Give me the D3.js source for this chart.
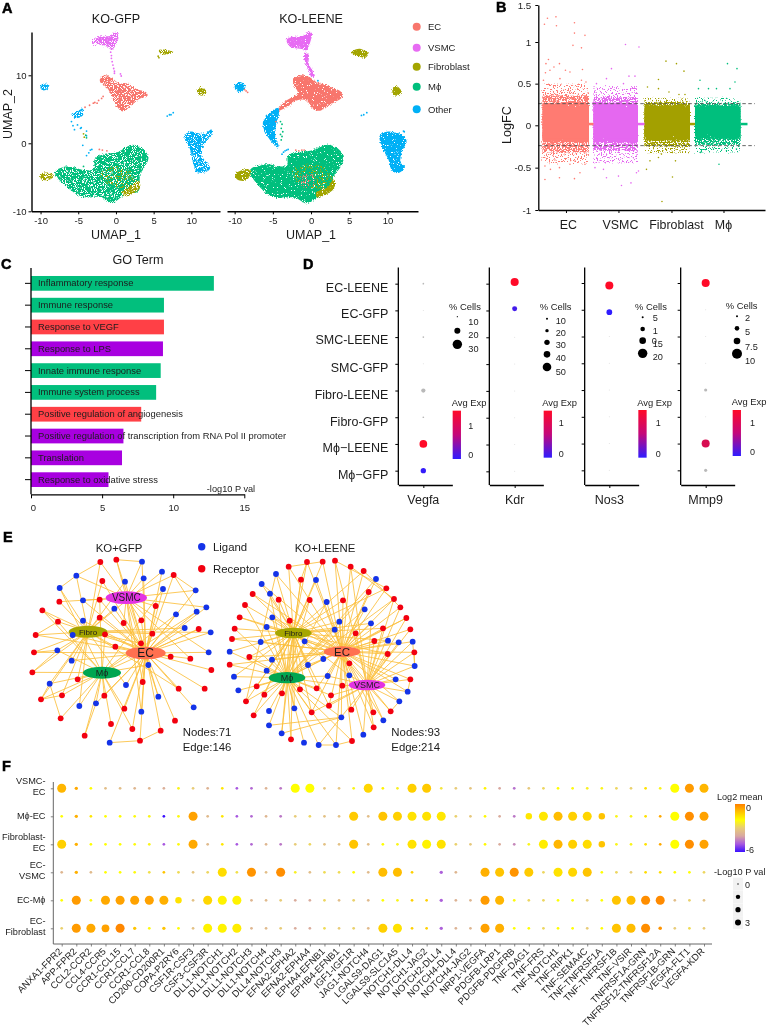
<!DOCTYPE html>
<html><head><meta charset="utf-8">
<script src="https://cdn.jsdelivr.net/npm/d3@7/dist/d3.min.js"></script>
<style>html,body{margin:0;padding:0;background:#fff}svg{display:block;filter:blur(.3px)}text{font-family:"Liberation Sans",Arial,sans-serif;fill:#1c1c1c}</style>
</head><body><script>
// ---------- Panel A data (UMAP units, outlines)
const cellTypes=['EC','VSMC','Fibroblast','Mϕ','Other'];
const typeColors=['#F8766D','#E76BF3','#A3A500','#00BF7D','#00B0F6'];
const umapTicksX=[-10,-5,0,5,10], umapTicksY=[-10,0,10];
const gfpBlobs=[
 ['Mϕ',[[-8.1,-4.3],[-7,-3.5],[-5.7,-3.5],[-4.8,-3.8],[-3,-3.8],[-2.8,-2.3],[-1.7,-1.6],[.1,-1.3],[2.3,-.2],[4.1,-1.3],[4.3,-2.3],[3.2,-4.8],[3,-7],[1,-7.7],[-.6,-8.8],[-2,-7.9],[-4.3,-7.9],[-6,-6.9]]],
 ['Fibroblast',[[.8,-7.2],[1.9,-6.3],[3,-5.5],[3.2,-6.5],[2.1,-7.5],[1.2,-7.8]]],
 ['Fibroblast',[[-10,-4.5],[-9,-4.3],[-8.2,-4.8],[-9,-5.4],[-9.9,-5.3]]],
 ['Fibroblast',[[5.7,13.7],[6.3,13.8],[7.6,13.4],[6.9,13.1],[5.9,13.2]]],
 ['Fibroblast',[[10.9,8],[11.4,8.3],[12,7.5],[11.4,7],[10.9,7.3]]],
 ['EC',[[-2.1,9.5],[-1.5,10],[-.6,9.6],[.5,8.8],[1.6,8.8],[2.7,8],[4,7.5],[4.2,6.9],[3.2,6.6],[2.3,5.8],[1.2,4.8],[.8,4.7],[.1,5.5],[-.6,7],[-1.2,8.2],[-2.1,9]]],
 ['VSMC',[[-3.2,14.9],[-2.1,15.7],[-.8,15.8],[-.1,16.4],[.3,16.2],[.2,14.9],[-.6,13.7],[-.8,13.9],[-2.1,14.5],[-3,14.5]]],
 ['Other',[[-10,8.5],[-9.4,8.8],[-8.8,8.4],[-9.4,7.8],[-9.9,7.9]]],
 ['Other',[[-5.9,4.3],[-5,4.8],[-4.3,5.1],[-4.4,4.1],[-5.4,3.7]]],
 ['Other',[[9.1,1.1],[9.8,1.7],[11.6,1.4],[12.7,2],[12.9,1.5],[11.9,.1],[11.4,-1.8],[12.5,-3.6],[12,-4.2],[10.7,-4.2],[10.2,-2.8],[9.8,-.8]]]
];
const gfpSparse=[['Fibroblast',[[-1.5,-3.8],[1,-3.5],[2.5,-5],[1.5,-6.5],[-.5,-6.3],[-2,-5]]]];
const gfpSpecks=[
 ['VSMC',[[-.7,13.4],[-.6,12.9],[-.6,12.5],[-.5,12],[-.4,11.5],[-.3,11],[-.2,10.6],[-.2,10.3],[.7,9.9],[.6,10.2]]],
 ['EC',[[-4.1,5.3],[-3.5,5.6],[-2.8,6],[-2.3,6.3],[-1.9,6.6],[-1.7,6.9],[-2.5,5.9],[-3,5.9],[-2.2,-.9],[-1.8,-1],[-1.2,-1.1]]],
 ['Other',[[-5.9,3.2],[-5.7,2.6],[-5.1,2.7],[-4.6,2.3],[-3.9,1.8],[-3.9,1.1],[-4.7,2.2],[-4.4,-.3],[-5.5,2],[-3.9,-1.8],[-3.6,-1.4],[-3.4,-1],[-3.2,-.9],[6.8,4],[7.1,4.2],[7.3,4.2],[7.6,4.5],[12.6,1.9]]],
 ['Mϕ',[[-3.9,.8],[-4,1.2],[-4.3,-3.4]]],
 ['Fibroblast',[[-4.3,1.4],[-4.2,.9],[5.6,12.8],[5.7,12.6]]]
];
const leeneBlobs=[
 ['Mϕ',[[-8,-4],[-6.2,-3.1],[-3.2,-3.3],[-3,-1.8],[-1.9,-1.3],[-.1,-1.1],[2.5,-.2],[4.2,-1.6],[4.2,-2.8],[2.9,-5.2],[2.9,-6.7],[1.2,-7.8],[-.6,-8.8],[-2.1,-8],[-4.5,-8],[-6.2,-7]]],
 ['Fibroblast',[[.7,-7.2],[2.3,-6.3],[2.9,-5],[3.1,-6.5],[1.6,-7.7],[.7,-7.8]]],
 ['Fibroblast',[[-9.9,-4.5],[-8.2,-3.8],[-7.9,-4.5],[-8.6,-5.5],[-9.7,-5.3]]],
 ['Fibroblast',[[5.6,13.7],[6.4,13.9],[7.5,13.2],[7.1,12.6],[6,12.9],[5.3,13.4]]],
 ['Fibroblast',[[10.7,8],[11.2,8.4],[11.9,7.5],[11.2,7],[10.7,7.3]]],
 ['EC',[[-2.3,9.5],[-1.4,10],[-.3,9.8],[.7,9],[2.3,8.4],[4,7.5],[4.1,6.8],[2.7,5.8],[1.2,4.8],[.3,5],[-.6,6.3],[-1.9,6.3],[-3.2,5.3],[-4.3,4.8],[-3.6,6],[-2.3,6.9],[-1.7,7.4],[-2.3,8.7]]],
 ['VSMC',[[-3.2,15.2],[-2.3,15.7],[-1.2,15.7],[-.3,16.4],[.1,16.2],[-.1,14.9],[-.6,13.7],[-1.4,13.9],[-2.7,14.2]]],
 ['VSMC',[[-.8,13.4],[-.3,13],[-.3,11.7],[.5,10],[.1,9.7],[-.3,10.7],[-.9,12.4]]],
 ['Other',[[-10,8.4],[-9.3,9],[-8.6,8.4],[-9.2,7.5],[-9.8,7.9]]],
 ['Other',[[-5.6,4.3],[-4.3,5.2],[-4.2,4.3],[-4.6,2.6],[-4.7,1.1],[-4.2,-.6],[-4.7,-.3],[-6,1.6],[-6.3,3.1]]],
 ['Other',[[9,1.1],[9.9,1.7],[11.7,1.4],[12.5,.4],[11.9,-1.3],[11.7,-2.8],[12.3,-3.5],[11.4,-4.4],[10.6,-4],[10.1,-2.3],[9.3,-.6]]]
];
const leeneSparse=[['Fibroblast',[[-2,-3.5],[1,-3.2],[2.8,-4.5],[1.5,-6.6],[-.5,-6.3],[-2.4,-5]]],['EC',[[-1.5,-5],[.2,-4.5],[.5,-6],[-1,-6.5]]]];
const leeneSpecks=[
 ['Mϕ',[[-4,3.2],[-3.8,2.8],[-3.9,2.2],[-3.7,1.7],[-4,1.3],[-3.8,1],[-3.9,.5]]],
 ['EC',[[-8.5,7.7],[-8.3,7.5],[-8.7,7.9],[-4.6,3.2],[-2,-1],[-1.6,-1.1],[-1.2,-1],[-.9,-1]]],
 ['Other',[[-3.8,-1.6],[-3.6,-1.3],[-3.4,-1.1],[-3.2,-1],[-3,-.9],[6.6,4.1],[6.9,4.2],[7.3,4.5],[12.1,1.8],[12.2,1.7],[.9,9.2]]],
 ['VSMC',[[-.2,15.5]]]
];
// ---------- Panel B data
const fcGroups=['EC','VSMC','Fibroblast','Mϕ'];
const fcColors=['#FF7B72','#E568F0','#A3A000','#00BF7D'];
const fcTickAt=[0,1.05,2.11,3.15];
const fcTickLabelAt=[.05,1.09,2.21,3.15];
const fcYTicks=[-1,-.5,0,.5,1,1.5];
const fcBands=[[-.47,.46],[.55,1.44],[1.57,2.48],[2.58,3.49]];
const fcLinks=[[.46,.55],[1.44,1.57],[2.48,2.58],[3.49,3.63]];
const fcCore=[[-.2,.27],[-.2,.27],[-.18,.24],[-.16,.24]];
const fcNear=[[-.32,.36],[-.3,.34],[-.25,.28],[-.23,.27]];
const fcFar=[[-.45,.5],[-.45,.47],[-.33,.33],[-.32,.33]];
const fcCutoffs=[.26,-.24];
const fcOutEC=[[-.43,1.24],[-.37,1.32],[-.2,1.34],[-.19,1.22],[.17,1.26],[.17,1.12],[.38,1.09],[.14,.96],[.31,.93],[-.35,.79],[-.4,.74],[-.32,.66],[-.41,.63],[-.24,.7],[-.13,.74],[-.01,.66],[.08,.64],[.33,.67],[-.45,.54],[-.12,.56],[.31,.54],[.4,.52],[-.42,-.64],[-.13,-.62],[.17,-.63],[.28,-.56],[-.31,-.52],[-.42,-.48],[-.13,-.5],[.08,-.46],[.38,-.46],[-.22,-.41]];
const fcOutVSMC=[[1.19,.97],[1.46,.94],[.91,.68],[.81,.56],[1.26,.59],[1.38,.59],[.61,.5],[1.15,.5],[1.11,-.71],[1.3,-.68],[.81,-.62],[1.05,-.6],[1.41,-.56],[.58,-.5],[1.45,-.54],[.75,-.52]];
const fcOutFibro=[[2,.77],[2.21,.74],[2.36,.65],[1.85,.55],[1.63,.46],[1.85,.44],[2.06,.4],[2.26,.37],[2.38,.37],[1.92,-.9],[2.13,-.61],[2.19,-.42],[1.61,-.52],[1.68,-.42],[1.85,-.38],[1.91,-.34],[2.28,-.3]];
const fcOutMac=[[3.23,.74],[3.42,.68],[3.38,.52],[2.68,.54],[2.65,.44],[2.85,.44],[3.01,.44],[3.28,.44],[3.06,-.46],[2.69,-.32],[3.21,-.3],[3.41,-.28],[2.95,-.28]];
// ---------- Panel C data
const goTerms=['Inflammatory response','Immune response','Response to VEGF','Response to LPS','Innate immune response','Immune system process','Positive regulation of angiogenesis','Positive regulation of transcription from RNA Pol II promoter','Translation','Response to oxidative stress'];
const goValues=[12.86,9.35,9.35,9.28,9.12,8.8,7.75,6.5,6.4,5.45];
const goColors=['#02BF7D','#02BF7D','#FF4046','#A800E0','#02BF7D','#02BF7D','#FF4046','#A800E0','#A800E0','#A800E0'];
const goTicks=[0,5,10,15];
// ---------- Panel D data
const dotRows=['EC-LEENE','EC-GFP','SMC-LEENE','SMC-GFP','Fibro-LEENE','Fibro-GFP','Mϕ−LEENE','Mϕ−GFP'];
const dotGenes=['Vegfa','Kdr','Nos3','Mmp9'];
const vegfaPct=[12,9.2,12,9.4,18,12,26,20.5];
const kdrPct=[47,28,3,3,3,3,3,3];
const nos3Pct=[17,12,1,1,1,1,1,1];
const mmp9Pct=[8,.5,.5,.5,3,.5,8,3];
const dotPct=[vegfaPct,kdrPct,nos3Pct,mmp9Pct];
const dotExp=[[null,null,null,null,null,null,1.4,.03],[1.4,.12,null,null,null,null,null,null],[1.4,-.1,null,null,null,null,null,null],[1.4,null,null,null,null,null,1.05,null]];
const dotShift=[0,-.06,.09,0];
const pctDomains=[[9,30],[0,50],[0,20],[0,10]];
const pctRanges=[[.2,4.7],[.2,4.3],[.1,4.7],[.1,5]];
const pctLegends=[[10,20,30],[10,20,30,40,50],[5,10,15,20],[2,5,7.5,10]];
// ---------- Panel E data (layout positions; last letter-code = hub partners)
const gfpNodes=[['L',426,110,'EV'],['R',349,104,'VE'],['R',301,111,'VF'],['L',229,152,'FV'],['L',179,189,'FM'],['R',127,256,'FM'],['R',107,330,'FE'],['R',102,382,'FE'],['R',97,442,'FM'],['L',149,476,'FM'],['R',123,523,'FM'],['R',182,580,'M'],['R',254,632,'M'],['L',329,653,'E'],['R',420,647,'E'],['R',482,617,'E'],['R',525,587,'E'],['L',581,547,'E'],['R',614,491,'E'],['R',634,435,'E'],['L',626,382,'EV'],['L',632,322,'EF'],['R',596,312,'EM'],['L',554,309,'EF'],['L',590,260,'EM'],['L',619,247,'EV'],['L',587,196,'EV'],['L',528,268,'EM'],['R',521,150,'EV'],['L',486,140,'EF'],['L',431,160,'EV'],['L',375,170,'EF'],['R',307,168,'EF'],['L',489,192,'EM'],['R',178,230,'FV'],['L',249,226,'EV'],['R',299,224,'EM'],['L',343,251,'EF'],['R',467,243,'EV'],['R',299,278,'EF'],['L',249,287,'EF'],['R',174,290,'FM'],['R',371,294,'EV'],['R',424,286,'EV'],['R',457,326,'EF'],['L',218,330,'EF'],['R',315,328,'EM'],['R',423,355,'EF'],['R',346,365,'EF'],['L',172,376,'FM'],['L',215,407,'EF'],['R',512,395,'EF'],['R',571,401,'EV'],['L',445,420,'EM'],['R',428,471,'EV'],['R',233,463,'FM'],['L',378,480,'EF'],['R',186,511,'FM'],['R',313,512,'EM'],['L',475,515,'EV'],['R',536,491,'EF'],['L',238,543,'FM'],['L',288,535,'EM'],['R',373,551,'EM'],['L',424,560,'EV'],['R',333,597,'M'],['R',397,612,'EM']];
const gfpLinks=[[1,0],[2,3],[3,4],[5,41],[13,14],[14,15],[11,9],[10,57],[28,26],[28,24],[7,49],[8,49],[6,41],[10,9],[12,62]];
const gfpHubs=[['VSMC',379,218,62,19,'#E333E3',10],['Fibro',264,320,58,18,'#A6A600',8],['EC',437,384,60,19,'#FF7050',12],['Mϕ',306,443,57,18,'#00A651',9]];
const leeneNodes=[['R',206,125,'FE'],['R',261,111,'FE'],['R',308,110,'EF'],['R',345,107,'EV'],['R',392,125,'EV'],['R',431,138,'EF'],['L',468,162,'EM'],['R',499,190,'EF'],['R',522,222,'EMV'],['R',541,247,'EV'],['R',559,279,'EVM'],['R',571,313,'EV'],['L',578,350,'EV'],['R',583,382,'EV'],['L',584,423,'EV'],['R',571,463,'VE'],['L',563,500,'VE'],['L',538,529,'VE'],['R',512,559,'VE'],['L',490,586,'VE'],['R',461,607,'VE'],['L',430,629,'VE'],['R',396,648,'EM'],['L',348,660,'EM'],['L',296,660,'MV'],['L',252,653,'M'],['R',213,643,'MF'],['L',185,625,'MF'],['L',147,601,'M'],['R',101,571,'MF'],['R',78,529,'MF'],['L',55,496,'M'],['L',42,455,'MF'],['R',29,419,'ME'],['L',29,380,'FM'],['R',36,342,'FE'],['R',44,311,'FM'],['R',59,277,'FE'],['R',75,240,'FM'],['R',98,207,'FE'],['L',125,177,'FE'],['L',168,147,'FE'],['L',150,206,'FM'],['R',176,224,'FM'],['R',243,164,'FM'],['L',288,165,'EF'],['R',269,225,'FM'],['L',320,231,'EM'],['R',369,226,'EF'],['R',446,201,'EM'],['L',434,253,'EM'],['L',157,277,'FME'],['L',140,306,'FM'],['R',209,287,'FEM'],['L',358,290,'EF'],['L',453,295,'EFV'],['L',344,314,'EMF'],['R',407,325,'EV'],['R',489,310,'EVF'],['L',122,351,'FE'],['L',254,349,'EFM'],['R',463,348,'EV'],['L',504,347,'EF'],['L',536,352,'EV'],['R',503,387,'EVF'],['R',88,396,'FME'],['L',156,404,'FME'],['L',310,402,'EFM'],['L',264,420,'EFM'],['R',388,415,'EVF'],['L',140,437,'MF'],['L',323,453,'EMV'],['L',388,451,'EVF'],['L',527,463,'VE'],['R',367,482,'VM'],['R',110,484,'MF'],['R',240,493,'MF'],['R',290,490,'MEF'],['R',133,509,'MF'],['R',186,505,'MF'],['R',333,511,'VM'],['R',327,542,'VEF'],['R',394,554,'VE'],['L',147,558,'M'],['L',223,550,'MF'],['R',275,562,'VMEF'],['R',460,562,'VE'],['L',364,577,'EM']];
const leeneLinks=[[1,44],[2,0],[3,7],[4,8],[5,9],[12,14],[13,14],[15,16],[17,18],[22,23],[23,24],[27,87],[28,87],[30,41]];
const leeneHubs=[['Fibro',220,324,55,16,'#A6A600',8],['EC',366,380,55,16,'#FF7050',11.5],['Mϕ',201,458,55,17,'#00A651',9],['VSMC',441,480,55,16,'#E333E3',9]];
// ---------- Panel F data
const pairs=['ANXA1-FPR2','APP-FPR2','CCL2-CCR2','CCL4-CCR5','CCR1-CCL15','CCR1-CCL7','CCR1-CCL8','CD200-CD200R1','COPA-P2RY6','CSF1R-CSF3','CSF3-CSF3R','DLL1-NOTCH1','DLL1-NOTCH2','DLL1-NOTCH3','DLL1-NOTCH4','DLL4-NOTCH3','EFNA2-EPHA2','EFNA2-EPHA4','EPHA4-EFNB1','EPHB4-EFNB1','IGF1-IGF1R','JAG1-NOTCH4','LGALS9-DAG1','LGALS9-SLC1A5','NOTCH1-DLL4','NOTCH1-JAG2','NOTCH2-DLL4','NOTCH4-DLL4','NOTCH4-JAG2','NRP1-VEGFA','PDGFB-LRP1','PDGFB-PDGFRB','TNF-DAG1','TNF-FRS','TNF-NOTCH1','TNF-RIPK1','TNF-SEMA4C','TNF-TNFRSF1A','TNF-TNFRSF1B','TNF-VSIR','TNFRSF1A-GRN','TNFRSF12-TNFRSF12A','TNFRSF1B-GRN','VEGFA-FLT1','VEGFA-KDR'];
const cciRows=[['VSMC-','EC'],['Mϕ-EC'],['Fibroblast-','EC'],['EC-','VSMC'],['EC-Mϕ'],['EC-','Fibroblast']];
const meanRows=[
[-.8,-.6,-2,-3.4,-3.4,-3.6,-3.6,-3.8,-2.2,-3,-3.7,-1.6,-5,-4.8,-3.7,-4.6,-2,-2,-3.2,-3.2,-2.2,-1.3,-1.8,-2.3,-1.2,-1.1,-2.5,-3,-3.2,-1.8,-4,-4.7,-3.1,-2.8,-2,-2.1,-2.3,-2.2,-2.8,-2.9,-1.5,-2.2,-2,-.4,-.8],
[-2,-.7,-1.6,-2,-2,-2.1,-2.2,-6,-2.1,-.5,-3.5,-1.6,-5,-4.8,-3.6,-4.6,-3,-2.8,-3.3,-3.3,-1.1,-3.4,-1,-1.2,-1.5,-1.5,-1.6,-2.9,-3.1,-1.9,-3.9,-4.6,-1.6,-1.6,-.9,-1.2,-1.3,-1,-2.2,-2.2,-1.5,-.6,-2,-.2,-.5],
[-1.2,-.7,-2,-2,-2,-2.1,-2.2,-5,-2.1,-.6,-3.5,-1.6,-5,-4.8,-3.6,-4.6,-3,-2.8,-3.3,-3.3,-1,-3.4,-2,-2.2,-1.5,-1.8,-1.5,-2.9,-3.1,-1.9,-3.9,-4.4,-2.2,-1.7,-.8,-1.2,-1.4,-1,-2.2,-2.2,-1.5,-.6,-2,-.2,-.5],
[-3.6,-.7,-3.5,-2,-2,-2.1,-2.6,-1,-2.7,-3.2,-2.8,-1.4,-2.6,-.3,-3.4,-.2,-2.3,-3.4,-2.7,-2.7,-2,-3.5,-.9,-.9,-1.2,null,-4.9,-3.6,null,-.7,-1,-.3,-1.1,-2.8,-1.5,-1.3,-1,-2,-2.8,-3,-1.4,-1.4,-2,-2,-2.8],
[-2,-.4,-1.9,-.6,-.5,-.5,-.5,-.7,-1.5,-3.3,-1.3,-1.8,-1.8,-3.6,-3.5,-3,-3.9,-3.9,-2.8,-3.4,-2.9,-3.5,-2,-2.2,-1.2,-1.2,-4.9,-3.7,-3.6,-.4,-.8,-2.1,-2.8,-2.8,-2,-2,-3,-2,-1,-.9,-.2,-.15,-3.4,-2.9,-3.3],
[-2.9,-.4,-.6,-.5,-.1,-1,-2.1,-1,-2,-3.3,-1.8,-1.8,-1.7,-3.6,-3.5,-3,-3.9,-3.9,-2.7,-3,-2.9,-3.5,-1.2,-1.5,-1.2,-1.2,-4.9,-3.7,-3.6,-.5,-.7,-2,-2,-2.8,-2,-2,-3,-2,-1,-.9,-.2,-.3,-3,-2.7,-3]
];
const pvalRows=[
[3,.3,0,0,0,0,0,0,0,0,0,0,0,0,0,0,3,3,0,0,0,3,0,0,3,3,0,0,0,0,0,0,0,0,0,0,0,0,0,0,0,0,3,3,3],
[0,.3,0,0,0,0,0,0,0,3,0,0,0,0,0,0,0,0,0,0,3,0,3,3,3,3,3,0,0,0,0,0,1.8,3,3,3,3,1.8,0,0,0,0,3,3,3],
[3,.3,0,0,0,0,0,0,0,3,0,0,0,0,0,0,0,0,0,0,3,0,0,0,3,3,3,0,0,0,0,0,0,3,3,3,3,1.8,0,0,0,0,3,3,3],
[0,.3,0,0,0,0,0,0,0,0,0,3,0,3,0,3,0,0,0,0,0,0,3,3,0,null,.3,0,null,3,3,3,3,0,3,3,3,0,0,0,0,0,0,0,0],
[0,3,0,3,3,3,3,3,1.8,0,3,3,3,0,0,0,0,0,0,0,0,0,0,0,0,0,.3,0,0,3,3,0,0,0,0,0,0,0,3,3,3,3,0,0,0],
[0,3,3,2.4,3,.3,0,.3,0,0,3,3,3,0,0,0,0,0,0,0,0,0,3,3,0,0,.3,0,0,3,3,0,0,0,0,0,0,0,3,3,3,.4,0,0,0]
];
const meanStops=[-6,-5,-4,-3,-2,-1,0];
const meanStopColors=['#3a10ff','#a858e0','#d8a8a0','#e8cc78','#ffff00','#ffc400','#ff8000'];
const pvalLegend=[0,1,2,3];

// ---------- canvas
const svg=d3.select('body').append('svg').attr('width',768).attr('height',1031).attr('viewBox','0 0 768 1031');
const defs=svg.append('defs');
function speck(id,region,freq,scale,k,c,seed){
  const f=defs.append('filter').attr('id',id).attr('filterUnits','userSpaceOnUse').attr('x',region[0]).attr('y',region[1]).attr('width',region[2]).attr('height',region[3]).attr('color-interpolation-filters','sRGB');
  f.append('feTurbulence').attr('type','fractalNoise').attr('baseFrequency',freq).attr('numOctaves',2).attr('seed',seed).attr('result','n');
  f.append('feDisplacementMap').attr('in','SourceGraphic').attr('in2','n').attr('scale',scale).attr('xChannelSelector','R').attr('yChannelSelector','G').attr('result','d');
  f.append('feColorMatrix').attr('in','n').attr('type','matrix').attr('values',`0 0 0 0 0 0 0 0 0 0 0 0 0 0 0 ${k} 0 0 0 ${-c}`).attr('result','m');
  f.append('feComposite').attr('in','d').attr('in2','m').attr('operator','in');
}
speck('gfpDense',[20,20,210,200],1.1,4,14,5.3,4);
speck('gfpSparse',[20,20,210,200],.8,3,18,10.4,7);
speck('leeneDense',[222,20,200,200],1.1,4,14,3.8,9);
speck('leeneSparse',[222,20,200,200],.8,3,18,10.4,11);
speck('fcEdge',[535,0,235,215],.9,3,14,3,2);
speck('fcNear',[535,0,235,215],.8,3,18,8,5);
speck('fcFar',[535,0,235,215],.75,3,18,10.3,6);

function txt(g,x,y,s,size,anchor,extra){
  const t=g.append('text').attr('x',x).attr('y',y).attr('font-size',size).attr('text-anchor',anchor||'start').text(s);
  if(extra) extra(t);
  return t;
}
function styleAxis(a,opts){
  a.selectAll('path,line').attr('stroke',opts.color||'#000').attr('stroke-width',opts.w||1.3);
  a.selectAll('text').attr('font-size',opts.fs||9.5).attr('fill','#222').attr('font-family','"Liberation Sans",Arial,sans-serif');
  a.selectAll('.tick line').attr('stroke-width',opts.tw||1);
}
[['A',2,13],['B',496,12],['C',1,269],['D',303,269],['E',3,542],['F',2,771]].forEach(d=>{
  txt(svg,d[1],d[2],d[0],14.5,'start',t=>t.attr('font-weight','bold').attr('stroke','#000').attr('stroke-width',.5).style('fill','#000'));
});

// ---------- Panel A
const typeColor=d3.scaleOrdinal(cellTypes,typeColors);
const gA=svg.append('g');
const yU=d3.scaleLinear([-10,16.37],[211.3,32]);
function umap(xDom,xRange,blobs,sparse,specks,denseId,sparseId,title,withY){
  const xU=d3.scaleLinear(xDom,xRange);
  const blobLine=d3.line().x(d=>xU(d[0])).y(d=>yU(d[1])).curve(d3.curveCatmullRomClosed.alpha(.5));
  gA.append('g').attr('filter',`url(#${denseId})`).selectAll('path').data(blobs).join('path').attr('d',d=>blobLine(d[1])).attr('fill',d=>typeColor(d[0]));
  gA.append('g').attr('filter',`url(#${sparseId})`).selectAll('path').data(sparse).join('path').attr('d',d=>blobLine(d[1])).attr('fill',d=>typeColor(d[0]));
  specks.forEach(s=>{
    gA.append('g').selectAll('circle').data(s[1]).join('circle').attr('cx',d=>xU(d[0])).attr('cy',d=>yU(d[1])).attr('r',.9).attr('fill',typeColor(s[0]));
  });
  const ax=gA.append('g').attr('transform','translate(0,211.3)').call(d3.axisBottom(xU).tickValues(umapTicksX).tickSize(3).tickSizeOuter(0).tickPadding(3).tickFormat(d=>d));
  styleAxis(ax,{w:1.4,fs:9.5});
  if(withY){
    const ay=gA.append('g').attr('transform',`translate(${xRange[0]},0)`).call(d3.axisLeft(yU).tickValues(umapTicksY).tickSize(3).tickSizeOuter(0).tickPadding(2).tickFormat(d=>d));
    styleAxis(ay,{w:1.4,fs:9.5});
    txt(gA,9,111,'UMAP_2',12.5,'middle',t=>t.attr('transform','rotate(-90,12,111)'));
  }
  txt(gA,xU(0),23,title,12.6,'middle');
  txt(gA,xU(0),239,'UMAP_1',12.5,'middle');
}
umap([-11.2,13.8],[31.5,220],gfpBlobs,gfpSparse,gfpSpecks,'gfpDense','gfpSparse','KO-GFP',true);
umap([-11,14],[227,418],leeneBlobs,leeneSparse,leeneSpecks,'leeneDense','leeneSparse','KO-LEENE',false);
const legAY=[26.7,47.7,66.7,86.7,109.3];
cellTypes.forEach((c,i)=>{
  gA.append('circle').attr('cx',416.7).attr('cy',legAY[i]).attr('r',4).attr('fill',typeColors[i]);
  txt(gA,428,legAY[i]+3.2,c,9.5);
});

// ---------- Panel B
const gB=svg.append('g');
const xF=d3.scaleLinear([-.553,3.98],[538.3,765]);
const yF=d3.scaleLinear([-1,0,1,1.5],[210,125.3,42,5]);
const rectY=(g,bands)=>g.selectAll(null).data(bands).join('rect')
  .attr('x',(d,i)=>xF(fcBands[i][0])).attr('width',(d,i)=>xF(fcBands[i][1])-xF(fcBands[i][0]))
  .attr('y',d=>yF(d[1])).attr('height',d=>yF(d[0])-yF(d[1])).attr('fill',(d,i)=>fcColors[i]);
rectY(gB.append('g').attr('filter','url(#fcFar)'),fcFar);
rectY(gB.append('g').attr('filter','url(#fcNear)'),fcNear);
rectY(gB.append('g').attr('filter','url(#fcEdge)'),fcCore);
rectY(gB.append('g'),fcCore.map(d=>[d[0]+.05,d[1]-.05]));
gB.append('g').selectAll('rect').data(fcLinks).join('rect').attr('x',d=>xF(d[0])).attr('width',d=>xF(d[1])-xF(d[0])).attr('y',yF(.03)).attr('height',yF(0)-yF(.03)).attr('fill',(d,i)=>fcColors[i]);
[fcOutEC,fcOutVSMC,fcOutFibro,fcOutMac].forEach((arr,i)=>{
  gB.append('g').selectAll('circle').data(arr).join('circle').attr('cx',d=>xF(d[0])).attr('cy',d=>yF(d[1])).attr('r',.8).attr('fill',fcColors[i]);
});
gB.selectAll('line.cut').data(fcCutoffs).join('line').attr('class','cut').attr('x1',xF.range()[0]).attr('x2',xF(3.78)).attr('y1',d=>yF(d)).attr('y2',d=>yF(d)).attr('stroke','#555').attr('stroke-dasharray','3.5 2.5').attr('stroke-width',.9);
const bx=gB.append('g').attr('transform','translate(0,210)').call(d3.axisBottom(xF).tickValues(fcTickAt).tickSize(3).tickSizeOuter(0).tickFormat(''));
styleAxis(bx,{w:1.3});
fcGroups.forEach((g,i)=>txt(gB,xF(fcTickLabelAt[i]),229,g,12.4,'middle'));
const by=gB.append('g').attr('transform','translate(538.3,0)').call(d3.axisLeft(yF).tickValues(fcYTicks).tickSize(3).tickSizeOuter(0).tickPadding(4).tickFormat(d=>d));
styleAxis(by,{w:1.3,fs:9.8});
txt(gB,511,125,'LogFC',12.6,'middle',t=>t.attr('transform','rotate(-90,511,125)'));

// ---------- Panel C
const gC=svg.append('g');
const xG=d3.scaleLinear([0,15],[31,244.3]);
const yG=d3.scaleBand(goTerms,[272.5,490.5]).paddingInner(.325).paddingOuter(.16);
gC.selectAll('rect').data(goTerms).join('rect').attr('x',xG(0)).attr('y',d=>yG(d)).attr('height',yG.bandwidth()).attr('width',(d,i)=>xG(goValues[i])-xG(0)).attr('fill',(d,i)=>goColors[i]);
gC.selectAll('text.term').data(goTerms).join('text').attr('class','term').attr('x',38).attr('y',d=>yG(d)+yG.bandwidth()/2+3).attr('font-size',9.4).text(d=>d);
const cx=gC.append('g').attr('transform','translate(0,494.3)').call(d3.axisBottom(xG).tickValues(goTicks).tickSize(4).tickSizeOuter(0).tickPadding(6));
styleAxis(cx,{w:1.3,fs:9.5});
cx.selectAll('text').attr('dx',d=>d===0?2:0);
const cy=gC.append('g').attr('transform','translate(31,0)').call(d3.axisLeft(yG).tickSize(6).tickSizeOuter(0).tickFormat(''));
styleAxis(cy,{w:1.3});
cy.select('.domain').attr('d','M0,268V494.3');
txt(gC,138,264,'GO Term',12.6,'middle');
txt(gC,231,492,'-log10 P val',9.2,'middle');

// ---------- Panel D
const gD=svg.append('g');
const dz=(x)=>290+x/3, dy=(y)=>255+y/3;
const expColor=d3.scaleLinear([0,1.3],['#2f1cff','#ff0a28']).clamp(true);
defs.append('linearGradient').attr('id','expGrad').attr('x1',0).attr('x2',0).attr('y1',0).attr('y2',1)
  .selectAll('stop').data([[0,'#ff0a28'],[.5,'#c4087a'],[1,'#2f1cff']]).join('stop').attr('offset',d=>d[0]).attr('stop-color',d=>d[1]);
const axisZ=[325,598,884,1172], tickZ=[400,674,958,1247];
const rowTicksZ=[[86,166,248,324,411,485,566,647],[86,165,248,324,412,486,567,649],[84,162,246,320,410,484,564,646],[84,162,246,320,410,484,564,646]];
const labelYZ=[98,177,253,337,420,500,578,660];
dotRows.forEach((r,i)=>txt(gD,dz(295),dy(labelYZ[i])+4.3,r,12.5,'end'));
const legTitleZ=[[525,157],[797,155],[1083,155],[1355,153]];
const legDotX=[502,771,1058,1341];
const legDotY=[[185,227,268],[191,227,262,298,336],[187,222,257,295],[184,220,258,296]];
const legLabX=[535,797,1088,1365];
const legLabY=[[201,241,281],[198,234,270,308,351],[190,227,266,305],[190,232,275,317]];
const legLab=[['10','20','30'],['10','20','30','40','50'],['5','1','15','20'],['2','5','7.5','10']];
const expTitleZ=[537,809,1094,1377], expTitleY=[445,445,443,441];
const barZ=[[488,467,612],[761,467,608],[1045,465,608],[1328,465,603]];
const expLabX=[535,806,1097,1380], expLabY=[[513,600],[503,598],[504,598],[505,592]];
const legendR=[[.6,3,4.7],[1,1.7,2.7,3.3,4.3],[1,2.3,3.3,4.7],[1,2.3,3.3,5]];
dotGenes.forEach((gene,j)=>{
  const yS=d3.scaleLinear([0,7],[dy(rowTicksZ[j][0]),dy(rowTicksZ[j][7])]);
  const rS=d3.scaleLinear(pctDomains[j],pctRanges[j]).clamp(true);
  const g=gD.append('g');
  const ax0=dz(axisZ[j]), ax1=ax0+54;
  const xS=d3.scaleLinear([0,1],[ax0,ax1]);
  const xa=g.append('g').attr('transform',`translate(0,485)`).call(d3.axisBottom(xS).tickValues([(tickZ[j]-axisZ[j])/162]).tickSize(3).tickSizeOuter(0).tickFormat(''));
  styleAxis(xa,{w:1.3});
  const ya=g.append('g').attr('transform',`translate(${ax0},0)`).call(d3.axisLeft(yS).tickValues(d3.range(8)).tickSize(3).tickSizeOuter(0).tickFormat(''));
  styleAxis(ya,{w:1.3});
  ya.select('.domain').attr('d','M0,267.5V485');
  txt(g,xS((tickZ[j]-axisZ[j])/162),503.5,gene,12.5,'middle');
  g.selectAll('circle.dot').data(dotPct[j]).join('circle').attr('class','dot')
    .attr('cx',xS((tickZ[j]-axisZ[j])/162)).attr('cy',(d,i)=>yS(i+(dotExp[j][i]!=null?dotShift[j]:0)))
    .attr('r',d=>Math.max(.5,rS(d)))
    .attr('fill',(d,i)=>dotExp[j][i]!=null?expColor(dotExp[j][i]):(rS(d)>=.7?'#b9b9b9':'#dcdcdc'));
  // size legend
  txt(g,dz(legTitleZ[j][0]),dy(legTitleZ[j][1])+3,'% Cells',9.4,'middle');
  g.selectAll('circle.leg').data(pctLegends[j]).join('circle').attr('class','leg')
    .attr('cx',dz(legDotX[j])).attr('cy',(d,i)=>dy(legDotY[j][i])).attr('r',(d,i)=>legendR[j][i]).attr('fill','#000');
  legLab[j].forEach((s,i)=>txt(g,dz(legLabX[j]),dy(legLabY[j][i])+3,s,9.2));
  if(j===2) txt(g,dz(legLabX[j]-3),dy(259)+3,'0',9.2);
  // colour legend
  txt(g,dz(expTitleZ[j]),dy(expTitleY[j])+3,'Avg Exp',9.4,'middle');
  g.append('rect').attr('x',dz(barZ[j][0])).attr('y',dy(barZ[j][1])).attr('width',8.3).attr('height',(barZ[j][2]-barZ[j][1])/3).attr('fill','url(#expGrad)');
  ['1','0'].forEach((s,i)=>txt(g,dz(expLabX[j]),dy(expLabY[j][i])+3,s,9));
});

// ---------- Panel E
const gE=svg.append('g');
function network(nodes,links,hubs,x0,title,titleZ,noteZ,noteLines){
  const xN=d3.scaleLinear([0,810],[x0,x0+270]), yN=d3.scaleLinear([0,720],[525,765]);
  const code={E:'EC',V:'VSMC',F:'Fibro',M:'Mϕ'};
  const hubBy=new Map(hubs.map(h=>[h[0],h]));
  const edges=[];
  nodes.forEach(n=>{ for(const c of n[3]){const h=hubBy.get(code[c]); edges.push([n[1],n[2],h[1],h[2]]);} });
  links.forEach(l=>{edges.push([nodes[l[0]][1],nodes[l[0]][2],nodes[l[1]][1],nodes[l[1]][2]]);});
  gE.append('g').selectAll('line').data(edges).join('line').attr('x1',d=>xN(d[0])).attr('y1',d=>yN(d[1])).attr('x2',d=>xN(d[2])).attr('y2',d=>yN(d[3])).attr('stroke','#FBBF3C').attr('stroke-width',.85);
  gE.append('g').selectAll('ellipse').data(hubs).join('ellipse').attr('cx',d=>xN(d[1])).attr('cy',d=>yN(d[2])).attr('rx',d=>d[3]/3).attr('ry',d=>d[4]/3).attr('fill',d=>d[5]);
  gE.append('g').selectAll('circle').data(nodes).join('circle').attr('cx',d=>xN(d[1])).attr('cy',d=>yN(d[2])).attr('r',2.9).attr('fill',d=>d[0]==='L'?'#1433E8':'#F2000F');
  gE.append('g').selectAll('text').data(hubs).join('text').attr('x',d=>xN(d[1])).attr('y',d=>yN(d[2])+d[6]*.36).attr('text-anchor','middle').attr('font-size',d=>d[6]).text(d=>d[0]);
  txt(gE,xN(titleZ),525+69/3+4,title,11.4,'middle');
  noteLines.forEach((s,i)=>txt(gE,xN(noteZ),525+(622+i*43)/3+4,s,11.4));
}
network(gfpNodes,gfpLinks,gfpHubs,0,'KO+GFP',357,548,['Nodes:71','Edge:146']);
network(leeneNodes,leeneLinks,leeneHubs,220,'KO+LEENE',315,514,['Nodes:93','Edge:214']);
gE.append('circle').attr('cx',201.7).attr('cy',546.7).attr('r',3.7).attr('fill','#1433E8');
gE.append('circle').attr('cx',201.7).attr('cy',568.7).attr('r',3.7).attr('fill','#F2000F');
txt(gE,213,551,'Ligand',11.4);
txt(gE,213,573,'Receptor',11.4);

// ---------- Panel F
const gF=svg.append('g');
const xP=d3.scalePoint(pairs,[61.7,704]);
const yP=d3.scalePoint(d3.range(6),[788.3,928.3]);
const meanColor=d3.scaleLinear(meanStops,meanStopColors);
const rP=d3.scaleLinear([0,3],[1.35,4.5]);
const cells=[];
meanRows.forEach((row,r)=>row.forEach((v,c)=>{ if(v!=null&&pvalRows[r][c]!=null) cells.push({r,c,v,p:pvalRows[r][c]}); }));
gF.append('g').selectAll('circle').data(cells).join('circle').attr('cx',d=>xP(pairs[d.c])).attr('cy',d=>yP(d.r)).attr('r',d=>rP(d.p)).attr('fill',d=>meanColor(d.v));
const fx=gF.append('g').attr('transform','translate(0,944)').call(d3.axisBottom(xP).tickSize(2.5).tickSizeOuter(0).tickFormat(''));
styleAxis(fx,{w:1,color:'#666',tw:.8});
fx.select('.domain').attr('d','M53.3,0H712');
gF.selectAll('text.pair').data(pairs).join('text').attr('class','pair').attr('text-anchor','end').attr('font-size',9.5)
  .attr('transform',d=>`translate(${xP(d)+1},952) rotate(-45)`).text(d=>d);
const fy=gF.append('g').attr('transform','translate(53.3,0)').call(d3.axisLeft(yP).tickSize(2.5).tickSizeOuter(0).tickFormat(''));
styleAxis(fy,{w:1,color:'#666',tw:.8});
fy.select('.domain').attr('d','M0,782V944');
cciRows.forEach((lines,i)=>{
  const off=lines.length===2?-4.5:3;
  lines.forEach((s,k)=>txt(gF,45.5,yP(i)+off+k*11.5,s,9.2,'end'));
});
defs.append('linearGradient').attr('id','meanGrad').attr('x1',0).attr('x2',0).attr('y1',1).attr('y2',0)
  .selectAll('stop').data(meanStops).join('stop').attr('offset',d=>(d+6)/6).attr('stop-color',d=>meanColor(d));
txt(gF,717,800,'Log2 mean',9.1);
gF.append('rect').attr('x',735).attr('y',804).attr('width',10).attr('height',48).attr('fill','url(#meanGrad)');
txt(gF,746,811,'0',9);
txt(gF,746,853,'-6',9);
txt(gF,714,875,'-Log10 P val',9.2);
const keyY=d3.scalePoint(pvalLegend,[884,922.5]);
gF.append('g').selectAll('rect').data(pvalLegend).join('rect').attr('x',733).attr('y',d=>keyY(d)-6.3).attr('width',10).attr('height',12.6).attr('fill','#f2f2f2');
gF.append('g').selectAll('circle').data(pvalLegend).join('circle').attr('cx',738).attr('cy',d=>keyY(d)).attr('r',(d,i)=>i===0?.7:i===1?2.2:i===2?2.6:3).attr('fill','#000');
txt(gF,745,887.5,'0',9);
txt(gF,745,926,'3',9);
</script></body></html>
